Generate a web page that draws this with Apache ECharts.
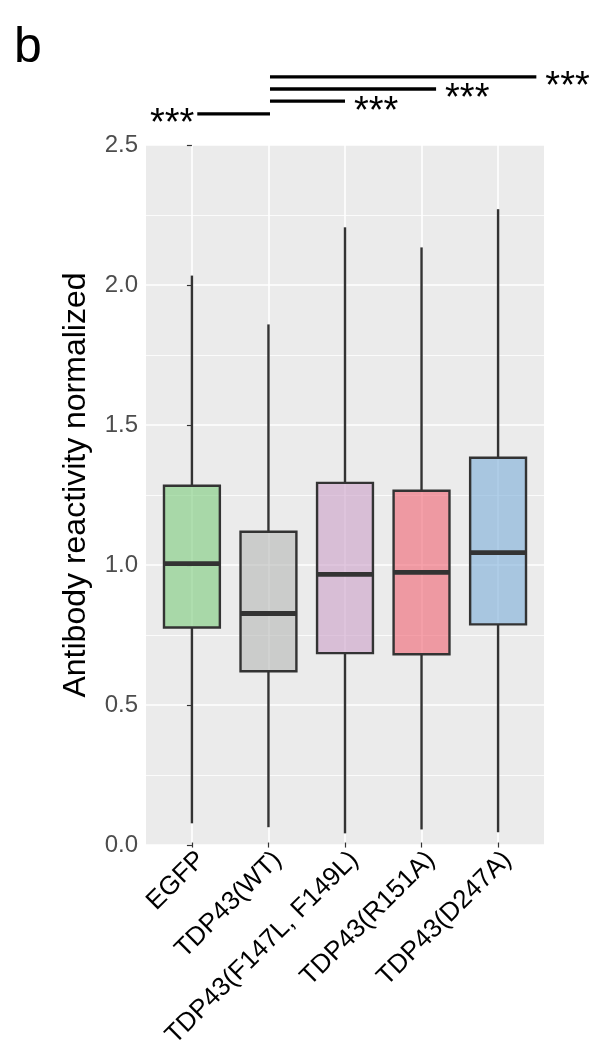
<!DOCTYPE html>
<html>
<head>
<meta charset="utf-8">
<script src="https://cdn.jsdelivr.net/npm/echarts@6/dist/echarts.min.js"></script>
<style>
html,body{margin:0;padding:0;background:#fff;}
#chart{width:605px;height:1051px;}
</style>
</head>
<body>
<div id="chart"></div>
<script>
// data
var categories=['EGFP','TDP43(WT)','TDP43(F147L, F149L)','TDP43(R151A)','TDP43(D247A)'];
var whiskerLow=[0.069,0.055,0.033,0.047,0.037];
var q1=[0.771,0.614,0.679,0.675,0.782];
var median=[1.0,0.821,0.961,0.968,1.039];
var q3=[1.279,1.114,1.289,1.261,1.379];
var whiskerHigh=[2.032,1.857,2.205,2.133,2.270];
var fills=['rgba(123,203,123,0.6)','rgba(182,183,182,0.6)','rgba(203,160,200,0.6)','rgba(240,98,113,0.6)','rgba(123,173,217,0.6)'];
// significance brackets (x in category units, y in data units)
var sigFrom=[0.07,1.02,1.02,1.02];
var sigTo=[1.02,2.0,3.19,4.5];
var sigY=[2.611,2.657,2.700,2.743];
var sigText=['***','***','***','***'];
var sigSide=['left','right','right','right'];

var font='"Liberation Sans", Arial, Helvetica, sans-serif';
var panelLeft=146, panelW=398, panelTop=145, panelH=700;
var band=panelW/5.2;

var boxData=categories.map(function(c,i){
    return [i,whiskerLow[i],q1[i],median[i],q3[i],whiskerHigh[i]];
});
var sigData=sigFrom.map(function(f,i){return [f,sigTo[i],sigY[i],i];});

var chart=echarts.init(document.getElementById('chart'));
chart.setOption({
    animation:false,
    backgroundColor:'#fff',
    graphic:[{type:'text',left:14,top:23,style:{text:'b',font:'50px '+font,fill:'#000'}}],
    grid:[
        {left:panelLeft,top:panelTop,width:panelW,height:panelH,show:true,backgroundColor:'#EBEBEB',borderWidth:0},
        {left:panelLeft+0.1*band,top:panelTop,width:5*band,height:panelH}
    ],
    xAxis:[
        {type:'value',gridIndex:0,min:-0.6,max:4.6,show:false},
        {type:'category',gridIndex:1,data:categories,
         axisLine:{show:false},
         axisTick:{show:true,alignWithLabel:true,length:5,lineStyle:{color:'#333',width:1.2}},
         axisLabel:{interval:0,rotate:45,fontSize:26,fontFamily:font,color:'#000',margin:4,verticalAlign:'top'},
         splitLine:{show:true,alignWithLabel:true,lineStyle:{color:'#fff',width:1.6}}}
    ],
    yAxis:[
        {type:'value',gridIndex:0,min:0,max:2.5,interval:0.5,
         axisLine:{show:false},
         axisTick:{show:true,length:5,lineStyle:{color:'#333',width:1.2}},
         axisLabel:{fontSize:24,fontFamily:font,color:'#4D4D4D',margin:8,
            formatter:function(v){return v.toFixed(1);}},
         splitLine:{show:true,lineStyle:{color:'#fff',width:1.6}},
         minorTick:{show:false,splitNumber:2},
         minorSplitLine:{show:true,lineStyle:{color:'#fff',width:0.8}},
         name:'Antibody reactivity normalized',nameLocation:'middle',nameGap:54,
         nameTextStyle:{fontSize:32,fontFamily:font,color:'#000',padding:[0,0,0,20]}},
        {type:'value',gridIndex:1,min:0,max:2.5,show:false}
    ],
    series:[
        {type:'custom',xAxisIndex:1,yAxisIndex:1,data:boxData,
         encode:{x:0,y:[1,2,3,4,5]},
         renderItem:function(params,api){
            var i=api.value(0);
            var lo=api.coord([i,api.value(1)]);
            var b1=api.coord([i,api.value(2)]);
            var md=api.coord([i,api.value(3)]);
            var b3=api.coord([i,api.value(4)]);
            var hi=api.coord([i,api.value(5)]);
            var bw=api.size([1,0])[0]*0.73;
            var x=lo[0];
            var stroke={stroke:'#333',lineWidth:2.4};
            return {type:'group',children:[
                {type:'line',shape:{x1:x,y1:hi[1],x2:x,y2:b3[1]},style:stroke},
                {type:'line',shape:{x1:x,y1:b1[1],x2:x,y2:lo[1]},style:stroke},
                {type:'rect',shape:{x:x-bw/2,y:b3[1],width:bw,height:b1[1]-b3[1]},
                 style:{fill:fills[i],stroke:'#333',lineWidth:2.4}},
                {type:'line',shape:{x1:x-bw/2,y1:md[1],x2:x+bw/2,y2:md[1]},style:{stroke:'#333',lineWidth:4.8}}
            ]};
         }},
        {type:'custom',xAxisIndex:0,yAxisIndex:0,data:sigData,clip:false,
         encode:{x:[0,1],y:2},
         renderItem:function(params,api){
            var k=api.value(3);
            var p1=api.coord([api.value(0),api.value(2)]);
            var p2=api.coord([api.value(1),api.value(2)]);
            var left=sigSide[k]==='left';
            return {type:'group',children:[
                {type:'line',shape:{x1:p1[0],y1:p1[1],x2:p2[0],y2:p2[1]},style:{stroke:'#000',lineWidth:3.3}},
                {type:'text',style:{text:sigText[k],x:left?p1[0]-3:p2[0]+9,y:p1[1]+11,
                    textAlign:left?'right':'left',textVerticalAlign:'middle',
                    font:'38px '+font,fill:'#000'}}
            ]};
         }}
    ]
});
</script>
</body>
</html>
